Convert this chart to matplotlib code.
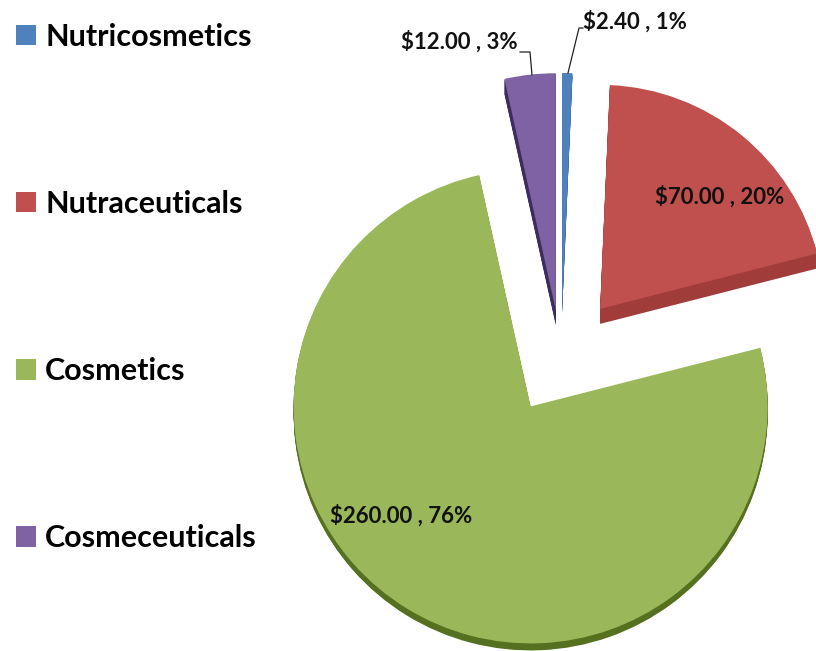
# Exploded pie of market size by product segment, with a dark extruded rim
import matplotlib.pyplot as plt

plt.rcParams['font.family'] = ['Lato', 'DejaVu Sans']

# data
segments = ["Nutricosmetics", "Nutraceuticals", "Cosmetics", "Cosmeceuticals"]
values = [2.40, 70.00, 260.00, 12.00]
percents = [1, 20, 76, 3]

# style
top_colors = ["#4f81bd", "#bf504d", "#9ab85a", "#7f62a3"]
side_colors = ["#3a628f", "#a03d3a", "#55701f", "#3b2d5e"]
explode = [47, 62, 58, 47]
rim = [4, 15, 7, 15]
radius = 237
red_radius = 224
W, H = 816, 651
cx, cy = 561, H - 357

fig = plt.figure(figsize=(W / 100, H / 100), dpi=100)
ax = fig.add_axes([0, 0, 1, 1])


def draw_pie(y, colors):
    wedges, _ = ax.pie(values, explode=explode, colors=colors, startangle=90,
                       counterclock=False, radius=radius, center=(cx, y))
    wedges[1].set_radius(red_radius)
    return wedges


# the rim is a stack of dark copies under the top face, each slice has its own depth
for d in range(max(rim), 0, -1):
    for w, r in zip(draw_pie(cy - d, side_colors), rim):
        w.set_visible(d <= r)
wedges = draw_pie(cy, top_colors)

ax.set_xlim(0, W)
ax.set_ylim(0, H)
ax.set_aspect("equal")

# data labels, same order as the slices
label_pos = [(583, 22, "left"), (655, 197, "left"), (330, 516, "left"), (518, 42, "right")]
for v, p, (x, y, ha) in zip(values, percents, label_pos):
    ax.text(x, H - y, f"${v:.2f} , {p}%", ha=ha, va="center",
            fontsize=16, fontweight="bold", color="#111111")

# leader lines for the two thin slices
ax.plot([583, 579, 568], [H - 28, H - 28, H - 73], color="#222222", lw=0.9)
ax.plot([520, 530, 532], [H - 52, H - 52, H - 75], color="#222222", lw=0.9)

ax.legend(wedges, segments, loc="upper left", bbox_to_anchor=(16 / W, 1 - 23 / H),
          frameon=False, borderpad=0, borderaxespad=0, handlelength=0.65,
          handleheight=0.65, handletextpad=0.3, labelspacing=4.55,
          prop={"family": "Lato", "weight": "bold", "size": 22})

fig.savefig("out.png", dpi=100)
